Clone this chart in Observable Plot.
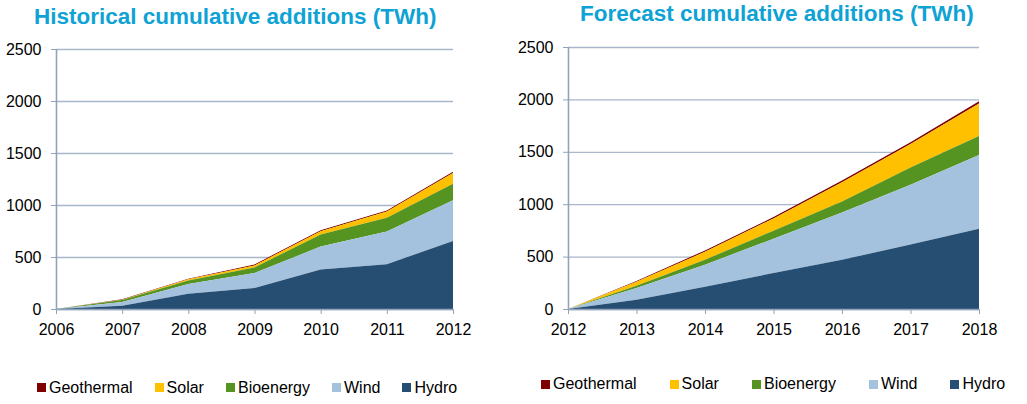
<!DOCTYPE html>
<html><head><meta charset="utf-8">
<script src="https://cdn.jsdelivr.net/npm/d3@7"></script>
<script src="https://cdn.jsdelivr.net/npm/@observablehq/plot@0.6"></script>
<style>
body{margin:0;background:#fff;font-family:"Liberation Sans",Arial,sans-serif}
#root{position:relative;width:1027px;height:404px;overflow:hidden;background:#fff}
.title{position:absolute;font-weight:bold;font-size:22.5px;color:#0ea2d5;white-space:nowrap;line-height:1}
.legend{position:absolute;display:flex;align-items:center;font-size:16px;line-height:1;color:#000;white-space:nowrap}
.legend .item{display:flex;align-items:center}
.legend .sw{width:9px;height:9px;margin-right:3px;flex:none}
.panel{position:absolute}
</style></head><body><div id="root"></div>
<script>
// ---- data ----
const series = ["Geothermal", "Solar", "Bioenergy", "Wind", "Hydro"];
const seriesColors = ["#7f0000", "#ffc000", "#559421", "#a4c2de", "#264e72"];
const stackOrder = ["Hydro", "Wind", "Bioenergy", "Solar", "Geothermal"];
const yTicks = [0, 500, 1000, 1500, 2000, 2500];

const histTitle = "Historical cumulative additions (TWh)";
const histYears = [2006, 2007, 2008, 2009, 2010, 2011, 2012];
const histHydro = [0, 32, 147, 202, 380, 430, 655];
const histWind = [0, 35, 93, 144, 220, 315, 390];
const histBio = [0, 19, 35, 54, 116, 132, 160];
const histSolar = [0, 4, 10, 19, 32, 61, 102];
const histGeo = [0, 3, 6, 10, 10, 10, 13];

const foreTitle = "Forecast cumulative additions (TWh)";
const foreYears = [2012, 2013, 2014, 2015, 2016, 2017, 2018];
const foreHydro = [0, 89, 213, 343, 470, 615, 765];
const foreWind = [0, 111, 210, 327, 450, 570, 705];
const foreBio = [0, 22, 47, 77, 105, 165, 180];
const foreSolar = [0, 38, 76, 117, 185, 225, 312];
const foreGeo = [0, 7, 13, 13, 15, 15, 20];

// ---- build ----
function toRows(years, obj) {
  const rows = [];
  for (const s of series) years.forEach((y, i) => rows.push({year: y, series: s, value: obj[s][i]}));
  return rows;
}
const histRows = toRows(histYears, {Hydro: histHydro, Wind: histWind, Bioenergy: histBio, Solar: histSolar, Geothermal: histGeo});
const foreRows = toRows(foreYears, {Hydro: foreHydro, Wind: foreWind, Bioenergy: foreBio, Solar: foreSolar, Geothermal: foreGeo});

const gridColor = "#a9b6cb";
const axisColor = "#93a3bc";
const root = document.getElementById("root");

function makeChart(rows, years, opts) {
  return Plot.plot({
    width: opts.width, height: opts.height,
    marginLeft: opts.ml, marginRight: opts.mr, marginTop: opts.mt, marginBottom: opts.mb,
    style: {fontFamily: "'Liberation Sans', Arial, sans-serif", fontSize: "16px", color: "#000", background: "transparent", overflow: "visible"},
    x: {domain: [years[0], years[years.length - 1]]},
    y: {domain: [0, 2500]},
    color: {domain: series, range: seriesColors},
    marks: [
      Plot.gridY(yTicks, {stroke: gridColor, strokeOpacity: 1, strokeWidth: 1.3}),
      Plot.areaY(rows, Plot.stackY({x: "year", y: "value", z: "series", fill: "series", order: stackOrder})),
      Plot.ruleX([years[0]], {stroke: axisColor, strokeWidth: 1.6}),
      Plot.ruleY([0], {stroke: axisColor, strokeWidth: 1.6}),
      Plot.axisY({ticks: yTicks, tickSize: 5, tickPadding: 10, stroke: axisColor, strokeOpacity: 1, fontSize: 16, tickFormat: d => String(d), label: null}),
      Plot.axisX({ticks: years, tickSize: 5, tickPadding: 9, stroke: axisColor, strokeOpacity: 1, fontSize: 16, tickFormat: d => String(d), label: null})
    ]
  });
}

function addPanel(svg, left, top) {
  const d = document.createElement("div");
  d.className = "panel";
  d.style.left = left + "px"; d.style.top = top + "px";
  d.appendChild(svg);
  root.appendChild(d);
}
function addTitle(text, left, top) {
  const t = document.createElement("div");
  t.className = "title"; t.textContent = text;
  t.style.left = left + "px"; t.style.top = top + "px";
  root.appendChild(t);
}
function addLegend(left, top, gap) {
  const lg = document.createElement("div");
  lg.className = "legend";
  lg.style.left = left + "px"; lg.style.top = top + "px";
  lg.style.gap = gap + "px";
  series.forEach((s, i) => {
    const it = document.createElement("div"); it.className = "item";
    const sw = document.createElement("span"); sw.className = "sw"; sw.style.background = seriesColors[i];
    const tx = document.createElement("span"); tx.textContent = s;
    it.appendChild(sw); it.appendChild(tx); lg.appendChild(it);
  });
  root.appendChild(lg);
}

addTitle(histTitle, 34, 6);
addTitle(foreTitle, 580, 3);
addPanel(makeChart(histRows, histYears, {width: 470, height: 300, ml: 56, mr: 17, mt: 9, mb: 31}), 0, 40);
addPanel(makeChart(foreRows, foreYears, {width: 480, height: 300, ml: 48, mr: 21, mt: 7, mb: 31}), 520, 40);
addLegend(37, 379.5, 22);
addLegend(541, 376, 33);
</script></body></html>
